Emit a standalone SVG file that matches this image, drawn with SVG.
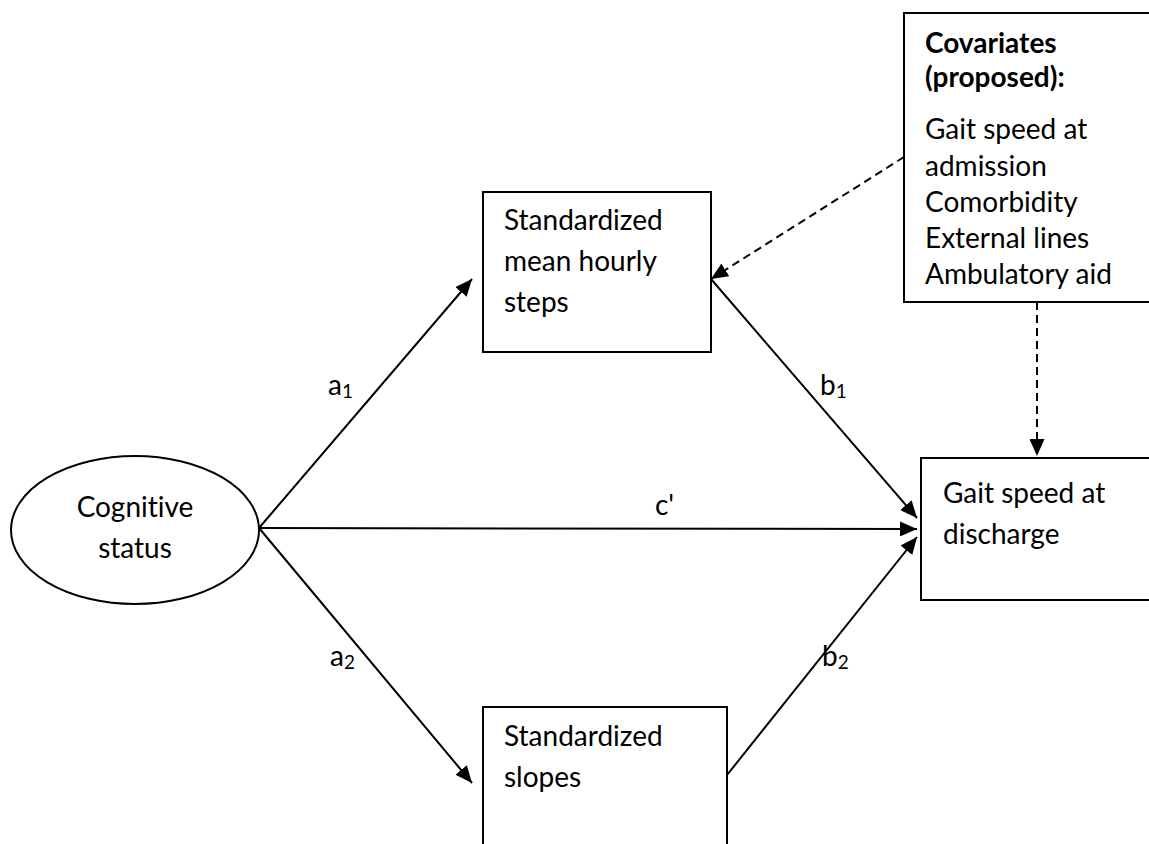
<svg xmlns="http://www.w3.org/2000/svg" width="1149" height="844" viewBox="0 0 1149 844">
  <style>
    .box { fill: #fff; stroke: #000; stroke-width: 2; }
    .lbl { font-family: "Lato", "Liberation Sans", sans-serif; font-size: 28px; fill: #000; font-variant-ligatures: none; }
    .bold { font-weight: bold; }
    .sub { font-size: 19px; }
    .edge { stroke: #000; stroke-width: 2; fill: none; }
    .dash { stroke-dasharray: 8 5; }
  </style>
  <defs>
    <marker id="arrow" viewBox="0 0 17 15" refX="17" refY="7.5" markerWidth="17" markerHeight="15" markerUnits="userSpaceOnUse" orient="auto">
      <path d="M0,0 L17,7.5 L0,15 Z" fill="#000"/>
    </marker>
  </defs>
  <rect width="1149" height="844" fill="#fff"/>

  <!-- connectors -->
  <g id="connectors">
    <line class="edge" x1="259" y1="528" x2="472" y2="279" marker-end="url(#arrow)"/>
    <line class="edge" x1="259" y1="528" x2="917" y2="529" marker-end="url(#arrow)"/>
    <line class="edge" x1="259" y1="528" x2="472" y2="783" marker-end="url(#arrow)"/>
    <line class="edge" x1="711" y1="279" x2="917" y2="518" marker-end="url(#arrow)"/>
    <line class="edge" x1="727" y1="775" x2="917" y2="537" marker-end="url(#arrow)"/>
    <line class="edge dash" x1="904" y1="157" x2="711" y2="279" marker-end="url(#arrow)"/>
    <line class="edge dash" x1="1037" y1="302" x2="1037" y2="456" marker-end="url(#arrow)"/>
    <text class="lbl" x="328" y="395">a<tspan class="sub" dy="3">1</tspan></text>
    <text class="lbl" x="820" y="395">b<tspan class="sub" dy="3">1</tspan></text>
    <text class="lbl" x="655" y="515">c'</text>
    <text class="lbl" x="330" y="666">a<tspan class="sub" dy="3">2</tspan></text>
    <text class="lbl" x="822" y="666">b<tspan class="sub" dy="3">2</tspan></text>
  </g>

  <g id="cognitive">
    <ellipse class="box" cx="135" cy="530" rx="124" ry="74"/>
    <text class="lbl" x="135" y="517" text-anchor="middle">Cognitive</text>
    <text class="lbl" x="135" y="558" text-anchor="middle">status</text>
  </g>

  <g id="mean-steps">
    <rect class="box" x="483" y="192" width="228" height="160"/>
    <text class="lbl" x="504" y="230">Standardized</text>
    <text class="lbl" x="504" y="271">mean hourly</text>
    <text class="lbl" x="504" y="312">steps</text>
  </g>

  <g id="slopes">
    <rect class="box" x="483" y="707" width="244" height="160"/>
    <text class="lbl" x="504" y="746">Standardized</text>
    <text class="lbl" x="504" y="787">slopes</text>
  </g>

  <g id="discharge">
    <rect class="box" x="921" y="458" width="240" height="142"/>
    <text class="lbl" x="943" y="503">Gait speed at</text>
    <text class="lbl" x="943" y="544">discharge</text>
  </g>

  <g id="covariates">
    <rect class="box" x="904" y="13" width="260" height="289"/>
    <text class="lbl bold" x="925" y="53">Covariates</text>
    <text class="lbl bold" x="925" y="87">(proposed):</text>
    <text class="lbl" x="925" y="139">Gait speed at</text>
    <text class="lbl" x="925" y="176">admission</text>
    <text class="lbl" x="925" y="212">Comorbidity</text>
    <text class="lbl" x="925" y="248">External lines</text>
    <text class="lbl" x="925" y="284">Ambulatory aid</text>
  </g>
</svg>
